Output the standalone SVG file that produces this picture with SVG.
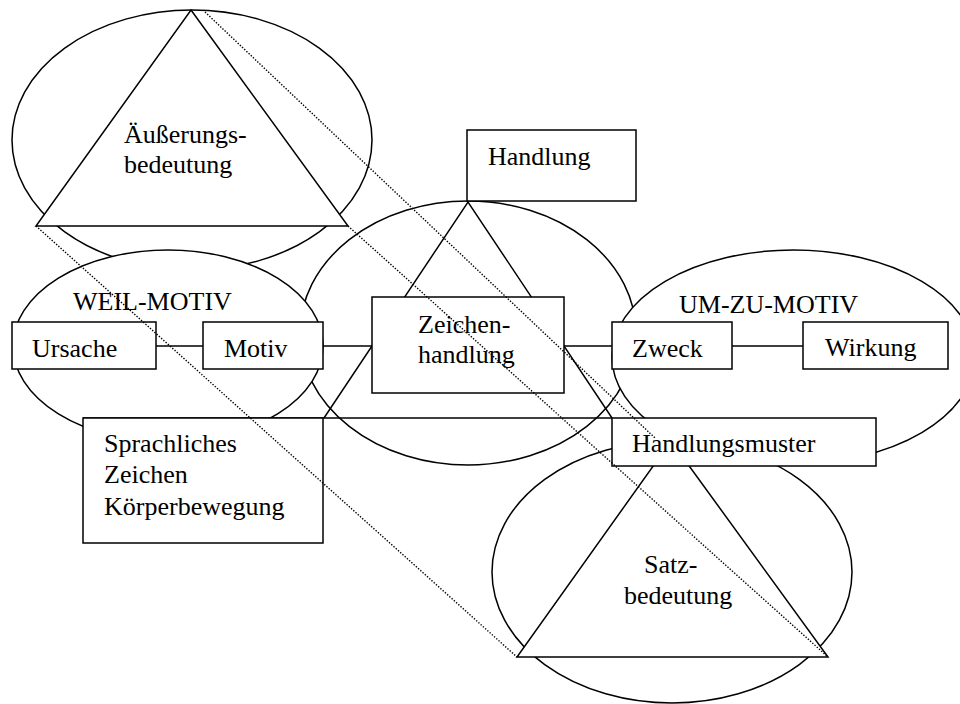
<svg xmlns="http://www.w3.org/2000/svg" width="960" height="704" viewBox="0 0 960 704">
<style>
.sh{fill:#fff;stroke:#000;stroke-width:1.5}
.ln{fill:none;stroke:#000;stroke-width:1.5}
.dt{fill:none;stroke:#000;stroke-width:1.4;stroke-dasharray:1.4 1.6}
text{font-family:"Liberation Serif","Times New Roman",serif;font-size:26px;fill:#000}
</style>
<defs>
<clipPath id="clipW"><rect x="803" y="322" width="146" height="42"/></clipPath>
</defs>
<rect x="0" y="0" width="960" height="704" fill="#fff"/>
<g id="aeusserung">
<ellipse class="sh" cx="192" cy="140" rx="180" ry="130"/>
<polygon class="sh" points="191,10 348,226 36,226"/>
<text x="124" y="143">Äußerungs-</text>
<text x="124" y="173">bedeutung</text>
</g>
<g id="zeichen-ellipse">
<ellipse class="sh" cx="468" cy="333" rx="168" ry="132"/>
</g>
<g id="weil-motiv">
<ellipse class="sh" cx="168" cy="346" rx="155" ry="96"/>
<text x="73" y="310">WEIL-MOTIV</text>
</g>
<g id="um-zu-motiv">
<ellipse class="sh" cx="793.5" cy="357" rx="181.5" ry="107"/>
<text x="679" y="313">UM-ZU-MOTIV</text>
</g>
<g id="satz-ellipse">
<ellipse class="sh" cx="672" cy="572" rx="180" ry="131"/>
</g>
<g id="connectors">
<polyline class="ln" points="324,418 468,202 612,418"/>
<line class="ln" x1="83" y1="418" x2="612" y2="418"/>
<line class="ln" x1="156" y1="346" x2="203" y2="346"/>
<line class="ln" x1="323" y1="346" x2="372" y2="346"/>
<line class="ln" x1="564" y1="346" x2="612" y2="346"/>
<line class="ln" x1="732" y1="346" x2="803" y2="346"/>
</g>
<g id="satzbedeutung">
<polygon class="sh" points="671,441 828,657 517,657"/>
<text x="644" y="573">Satz-</text>
<text x="624" y="604">bedeutung</text>
</g>
<g id="handlung">
<rect class="sh" x="467" y="130" width="169" height="71"/>
<text x="488" y="165">Handlung</text>
</g>
<g id="zeichenhandlung">
<rect class="sh" x="372" y="297" width="192" height="96"/>
<text x="418" y="333">Zeichen-</text>
<text x="418" y="363">handlung</text>
</g>
<g id="ursache">
<rect class="sh" x="12" y="322" width="144" height="47"/>
<text x="32" y="357">Ursache</text>
</g>
<g id="motiv">
<rect class="sh" x="203" y="322" width="120" height="47"/>
<text x="224" y="357">Motiv</text>
</g>
<g id="zweck">
<rect class="sh" x="612" y="322" width="120" height="47"/>
<text x="632" y="357">Zweck</text>
</g>
<g id="wirkung">
<rect class="sh" x="803" y="322" width="145" height="47"/>
<text x="825" y="356" clip-path="url(#clipW)">Wirkung</text>
</g>
<g id="sprachliches-zeichen">
<rect class="sh" x="83" y="418" width="240" height="125"/>
<text x="104" y="452">Sprachliches</text>
<text x="104" y="483">Zeichen</text>
<text x="104" y="515">Körperbewegung</text>
</g>
<g id="handlungsmuster">
<rect class="sh" x="612" y="418" width="264" height="48"/>
<text x="632" y="452">Handlungsmuster</text>
</g>
<g id="projection">
<line class="dt" x1="205" y1="12" x2="655" y2="438"/>
<line class="dt" x1="348" y1="226" x2="828" y2="657"/>
<line class="dt" x1="36" y1="226" x2="517" y2="657"/>
</g>
</svg>
